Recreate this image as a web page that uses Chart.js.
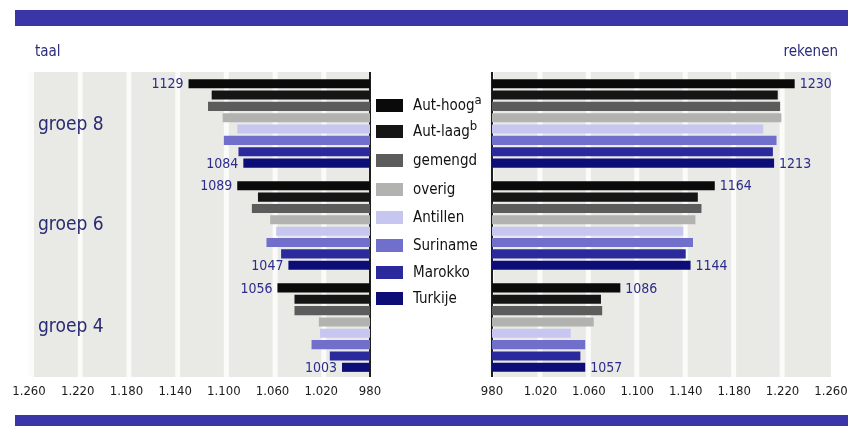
<!DOCTYPE html>
<html lang="nl">
<head>
<meta charset="UTF-8">
<title>taal en rekenen per groep</title>
<style>
    body {
        margin: 0;
        width: 848px;
        height: 426px;
        background: #ffffff;
        font-family: "Liberation Sans Narrow", "DejaVu Sans Condensed", sans-serif;
        position: relative;
        overflow: hidden;
    }
    .band { position: absolute; left: 15px; width: 833px; background: #3b36a8; }
    .wrap { position: absolute; top: 0; height: 426px; }
    .title { position: absolute; top: 42px; font-size: 15px; color: #2b2c7c; }
    .groep { position: absolute; left: 38px; font-size: 19px; color: #2a2a72; }
    .legend { position: absolute; left: 376px; top: 0; }
    .legend .row { position: absolute; left: 0; height: 18px; white-space: nowrap; }
    .legend .box { position: absolute; left: 0; top: 3px; width: 27px; height: 13px; }
    .legend .txt { position: absolute; left: 37px; top: 0; font-size: 15px; color: #111; line-height: 18px; }
    .legend sup { font-size: 13px; position: relative; top: -6px; line-height: 0; vertical-align: baseline; }
</style>
</head>
<body>

<div class="band" style="top:10px;height:16px"></div>
<div class="band" style="top:415px;height:11px"></div>

<div class="wrap" style="left:0;width:424px"><canvas id="taalChart"></canvas></div>
<div class="wrap" style="left:424px;width:444px"><canvas id="rekenChart"></canvas></div>

<div class="title" style="left:35px">taal</div>
<div class="title" style="right:10px">rekenen</div>

<div id="groepLabels"></div>
<div class="legend" id="legend"></div>

<script src="https://cdn.jsdelivr.net/npm/chart.js"></script>
<script>
    // groups from top to bottom, each with the same 8 categories
    var groups = ['groep 8', 'groep 6', 'groep 4'];
    var categories = ['Aut-hoog', 'Aut-laag', 'gemengd', 'overig', 'Antillen', 'Suriname', 'Marokko', 'Turkije'];
    var footnotes = ['a', 'b', '', '', '', '', '', ''];
    var colors = ['#0a0a0a', '#151515', '#5c5c5c', '#b2b2b0', '#c6c6f0', '#7070cc', '#2a2a9c', '#0d0d78'];

    // taal scores
    var taal8 = [1129, 1110, 1113, 1101, 1089, 1100, 1088, 1084];
    var taal6 = [1089, 1072, 1077, 1062, 1057, 1065, 1053, 1047];
    var taal4 = [1056, 1042, 1042, 1022, 1021, 1028, 1013, 1003];

    // rekenen scores
    var reken8 = [1230, 1216, 1218, 1219, 1204, 1215, 1212, 1213];
    var reken6 = [1164, 1150, 1153, 1148, 1138, 1146, 1140, 1144];
    var reken4 = [1086, 1070, 1071, 1064, 1045, 1057, 1053, 1057];

    var tickValues = [980, 1020, 1060, 1100, 1140, 1180, 1220, 1260];
    var axisMin = 980, axisMax = 1260;

    // one slot per bar, an empty slot between the groups
    function buildSlots(lists) {
        var labels = [], data = [], bg = [], show = [];
        lists.forEach(function (list, g) {
            if (g > 0) {
                labels.push(''); data.push(null); bg.push('transparent'); show.push(false);
            }
            list.forEach(function (v, i) {
                labels.push(groups[g] + ' ' + categories[i]);
                data.push([axisMin, v]);
                bg.push(colors[i]);
                show.push(i === 0 || i === list.length - 1);
            });
        });
        return { labels: labels, data: data, bg: bg, show: show };
    }

    function fmt(v) {
        if (v < 1000) return String(v);
        return Math.floor(v / 1000) + '.' + String(v % 1000).padStart(3, '0');
    }

    // light grey columns behind the bars, plus the baseline at 980
    var stripes = {
        id: 'stripes',
        beforeDatasetsDraw: function (chart) {
            var ctx = chart.ctx, x = chart.scales.x, area = chart.chartArea;
            var top = area.top - 6, bottom = area.bottom + 4;
            var rev = chart.options.scales.x.reverse;
            ctx.save();
            for (var v = axisMin; v < axisMax; v += 40) {
                var a = x.getPixelForValue(v), b = x.getPixelForValue(v + 40);
                ctx.fillStyle = '#e9e9e5';
                ctx.fillRect(Math.min(a, b), top, Math.abs(b - a), bottom - top);
                // small white gap next to each grid line
                ctx.fillStyle = '#fbfbf9';
                if (rev) ctx.fillRect(b, top, 5, bottom - top);
                else ctx.fillRect(a - 3, top, 5, bottom - top);
            }
            var z = x.getPixelForValue(axisMin);
            ctx.fillStyle = '#1e1e1e';
            ctx.fillRect(z - 1, top, 2, bottom - top);
            ctx.restore();
        }
    };

    // value labels at first and last bar of each group
    var valueLabels = {
        id: 'valueLabels',
        afterDatasetsDraw: function (chart) {
            var ctx = chart.ctx, meta = chart.getDatasetMeta(0);
            var show = chart.options.plugins.valueLabels.show;
            var rev = chart.options.scales.x.reverse;
            ctx.save();
            ctx.font = '14px "Liberation Sans Narrow", "DejaVu Sans Condensed", sans-serif';
            ctx.fillStyle = '#2c2c8c';
            ctx.textBaseline = 'middle';
            meta.data.forEach(function (bar, i) {
                if (!show[i]) return;
                var v = chart.data.datasets[0].data[i][1];
                if (rev) {
                    ctx.textAlign = 'right';
                    ctx.fillText(v, bar.x - 5, bar.y + 1);
                } else {
                    ctx.textAlign = 'left';
                    ctx.fillText(v, bar.x + 5, bar.y + 1);
                }
            });
            ctx.restore();
        }
    };

    function makeChart(id, w, lists, reverse, pad) {
        var c = document.getElementById(id);
        c.width = w; c.height = 426;
        c.style.width = w + 'px'; c.style.height = '426px';
        var s = buildSlots(lists);
        return new Chart(c, {
            type: 'bar',
            data: {
                labels: s.labels,
                datasets: [{
                    data: s.data,
                    backgroundColor: s.bg,
                    borderWidth: 0,
                    barPercentage: 0.8,
                    categoryPercentage: 1
                }]
            },
            options: {
                indexAxis: 'y',
                responsive: false,
                animation: false,
                devicePixelRatio: 1,
                layout: { padding: pad },
                plugins: {
                    legend: { display: false },
                    tooltip: { enabled: false },
                    valueLabels: { show: s.show }
                },
                scales: {
                    y: { display: false, offset: true },
                    x: {
                        reverse: reverse,
                        min: axisMin,
                        max: axisMax,
                        grid: { display: false, drawTicks: false },
                        border: { display: false },
                        afterBuildTicks: function (axis) {
                            axis.ticks = tickValues.map(function (v) { return { value: v }; });
                        },
                        afterFit: function (axis) { axis.height = 30; },
                        ticks: {
                            padding: 11,
                            maxRotation: 0,
                            autoSkip: false,
                            color: '#1a1a1a',
                            font: { family: '"Liberation Sans Narrow", "DejaVu Sans Condensed", sans-serif', size: 13 },
                            callback: function (v) { return fmt(v); }
                        }
                    }
                }
            },
            plugins: [stripes, valueLabels]
        });
    }

    makeChart('taalChart', 424, [taal8, taal6, taal4], true, { left: 29, right: 54, top: 78, bottom: 23 });
    makeChart('rekenChart', 444, [reken8, reken6, reken4], false, { left: 68, right: 37, top: 78, bottom: 23 });

    // group names on the left
    var groepTop = [112, 212, 314];
    var gl = document.getElementById('groepLabels');
    groups.forEach(function (g, i) {
        var d = document.createElement('div');
        d.className = 'groep';
        d.style.top = groepTop[i] + 'px';
        d.textContent = g;
        gl.appendChild(d);
    });

    // legend in the middle
    var legendTop = [96, 122, 151, 180, 208, 236, 263, 289];
    var lg = document.getElementById('legend');
    categories.forEach(function (name, i) {
        var row = document.createElement('div');
        row.className = 'row';
        row.style.top = legendTop[i] + 'px';
        var box = document.createElement('div');
        box.className = 'box';
        box.style.background = colors[i];
        var txt = document.createElement('div');
        txt.className = 'txt';
        txt.textContent = name;
        if (footnotes[i]) {
            var sup = document.createElement('sup');
            sup.textContent = footnotes[i];
            txt.appendChild(sup);
        }
        row.appendChild(box);
        row.appendChild(txt);
        lg.appendChild(row);
    });
</script>

</body>
</html>
